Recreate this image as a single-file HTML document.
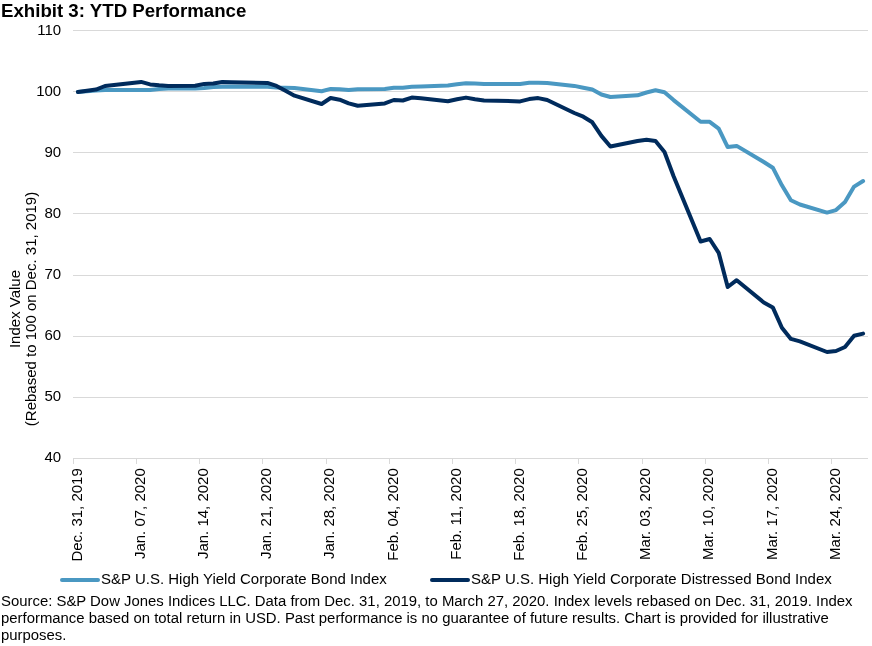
<!DOCTYPE html>
<html><head><meta charset="utf-8">
<style>
html,body{margin:0;padding:0;background:#fff;}
body{will-change:transform;}
body{width:872px;height:646px;position:relative;overflow:hidden;font-family:"Liberation Sans",sans-serif;color:#000;}
#title{position:absolute;white-space:nowrap;left:1px;top:0.3px;font-size:18.67px;font-weight:bold;line-height:22px;}
#src{position:absolute;left:1px;top:593px;width:871px;font-size:14.9px;line-height:17px;white-space:nowrap;}
svg{position:absolute;left:0;top:0;font-family:"Liberation Sans",sans-serif;}
</style></head><body>
<div id="title">Exhibit 3: YTD Performance</div>
<svg width="872" height="646" viewBox="0 0 872 646" font-size="15">
<g stroke="#D9D9D9" stroke-width="1" shape-rendering="crispEdges">
<line x1="73.4" y1="30.5" x2="867.6" y2="30.5"/>
<line x1="73.4" y1="91.6" x2="867.6" y2="91.6"/>
<line x1="73.4" y1="152.7" x2="867.6" y2="152.7"/>
<line x1="73.4" y1="213.8" x2="867.6" y2="213.8"/>
<line x1="73.4" y1="275.0" x2="867.6" y2="275.0"/>
<line x1="73.4" y1="336.1" x2="867.6" y2="336.1"/>
<line x1="73.4" y1="397.2" x2="867.6" y2="397.2"/>
<line x1="73.4" y1="458.4" x2="867.6" y2="458.4"/>
<line x1="73.4" y1="458.4" x2="73.4" y2="463.5"/>
<line x1="136.6" y1="458.4" x2="136.6" y2="463.5"/>
<line x1="199.8" y1="458.4" x2="199.8" y2="463.5"/>
<line x1="262.9" y1="458.4" x2="262.9" y2="463.5"/>
<line x1="326.1" y1="458.4" x2="326.1" y2="463.5"/>
<line x1="389.3" y1="458.4" x2="389.3" y2="463.5"/>
<line x1="452.4" y1="458.4" x2="452.4" y2="463.5"/>
<line x1="515.6" y1="458.4" x2="515.6" y2="463.5"/>
<line x1="578.8" y1="458.4" x2="578.8" y2="463.5"/>
<line x1="642.0" y1="458.4" x2="642.0" y2="463.5"/>
<line x1="705.1" y1="458.4" x2="705.1" y2="463.5"/>
<line x1="768.3" y1="458.4" x2="768.3" y2="463.5"/>
<line x1="831.5" y1="458.4" x2="831.5" y2="463.5"/>
</g>
<g text-anchor="end" fill="#000">
<text x="61.2" y="34.5">110</text>
<text x="61.2" y="95.6">100</text>
<text x="61.2" y="156.7">90</text>
<text x="61.2" y="217.8">80</text>
<text x="61.2" y="279.0">70</text>
<text x="61.2" y="340.1">60</text>
<text x="61.2" y="401.2">50</text>
<text x="61.2" y="462.4">40</text>
</g>
<g text-anchor="middle">
<text transform="translate(20.3,309) rotate(-90)">Index Value</text>
<text transform="translate(35.8,309) rotate(-90)">(Rebased to 100 on Dec. 31, 2019)</text>
</g>
<g text-anchor="end">
<text transform="translate(81.7,468.2) rotate(-90)">Dec. 31, 2019</text>
<text transform="translate(144.9,468.2) rotate(-90)">Jan. 07, 2020</text>
<text transform="translate(208.1,468.2) rotate(-90)">Jan. 14, 2020</text>
<text transform="translate(271.2,468.2) rotate(-90)">Jan. 21, 2020</text>
<text transform="translate(334.4,468.2) rotate(-90)">Jan. 28, 2020</text>
<text transform="translate(397.6,468.2) rotate(-90)">Feb. 04, 2020</text>
<text transform="translate(460.7,468.2) rotate(-90)">Feb. 11, 2020</text>
<text transform="translate(523.9,468.2) rotate(-90)">Feb. 18, 2020</text>
<text transform="translate(587.1,468.2) rotate(-90)">Feb. 25, 2020</text>
<text transform="translate(650.3,468.2) rotate(-90)">Mar. 03, 2020</text>
<text transform="translate(713.4,468.2) rotate(-90)">Mar. 10, 2020</text>
<text transform="translate(776.6,468.2) rotate(-90)">Mar. 17, 2020</text>
<text transform="translate(839.8,468.2) rotate(-90)">Mar. 24, 2020</text>
</g>
<g fill="none" stroke-width="4" stroke-linejoin="round" stroke-linecap="round">
<path stroke="#4A98C2" d="M77.9 91.9 L96.0 90.5 L105.0 89.9 L132.1 89.9 L141.1 89.9 L150.1 89.9 L159.1 89.0 L168.2 88.6 L195.2 88.5 L204.3 88.1 L213.3 87.1 L222.3 86.7 L231.3 86.5 L267.4 86.8 L276.5 87.5 L285.5 87.7 L294.5 87.9 L321.6 91.2 L330.6 88.9 L339.6 89.2 L348.7 90.1 L357.7 89.2 L384.8 88.9 L393.8 87.8 L402.8 87.7 L411.8 86.8 L420.9 86.4 L447.9 85.6 L457.0 84.3 L466.0 83.3 L475.0 83.6 L484.0 83.9 L520.1 83.9 L529.2 82.8 L538.2 82.8 L547.2 83.0 L574.3 85.9 L583.3 87.8 L592.3 89.5 L601.4 94.5 L610.4 97.0 L637.5 95.3 L646.5 92.5 L655.5 90.3 L664.5 92.3 L673.6 100.1 L700.6 121.8 L709.7 121.8 L718.7 128.6 L727.7 147.1 L736.7 145.9 L763.8 162.0 L772.8 167.7 L781.9 185.3 L790.9 200.2 L799.9 204.5 L827.0 212.6 L836.0 210.1 L845.0 202.0 L854.1 186.6 L863.1 181.0"/>
<path stroke="#002B5C" d="M77.9 91.9 L96.0 89.6 L105.0 86.0 L132.1 83.0 L141.1 81.9 L150.1 84.4 L159.1 85.3 L168.2 86.0 L195.2 85.8 L204.3 83.9 L213.3 83.5 L222.3 82.1 L231.3 82.2 L267.4 82.9 L276.5 85.9 L285.5 90.7 L294.5 95.7 L321.6 104.0 L330.6 98.0 L339.6 99.7 L348.7 103.4 L357.7 105.7 L384.8 103.4 L393.8 100.0 L402.8 100.5 L411.8 97.6 L420.9 98.3 L447.9 101.2 L457.0 99.3 L466.0 97.6 L475.0 99.2 L484.0 100.4 L520.1 101.4 L529.2 99.1 L538.2 98.1 L547.2 100.0 L574.3 113.0 L583.3 116.7 L592.3 122.3 L601.4 135.9 L610.4 146.5 L637.5 141.0 L646.5 139.8 L655.5 141.0 L664.5 152.0 L673.6 176.3 L700.6 241.5 L709.7 239.0 L718.7 252.8 L727.7 287.0 L736.7 280.2 L763.8 302.5 L772.8 307.4 L781.9 327.8 L790.9 338.9 L799.9 341.4 L827.0 352.0 L836.0 351.0 L845.0 347.0 L854.1 335.8 L863.1 333.6"/>
<line x1="62" y1="580" x2="98" y2="580" stroke="#4A98C2"/>
<line x1="432" y1="580" x2="468" y2="580" stroke="#002B5C"/>
</g>
<g>
<text x="101" y="583.8">S&amp;P U.S. High Yield Corporate Bond Index</text>
<text x="471" y="583.8">S&amp;P U.S. High Yield Corporate Distressed Bond Index</text>
</g>
</svg>
<div id="src">Source: S&amp;P Dow Jones Indices LLC. Data from Dec. 31, 2019, to March 27, 2020. Index levels rebased on Dec. 31, 2019. Index<br>performance based on total return in USD. Past performance is no guarantee of future results. Chart is provided for illustrative<br>purposes.</div>
</body></html>
